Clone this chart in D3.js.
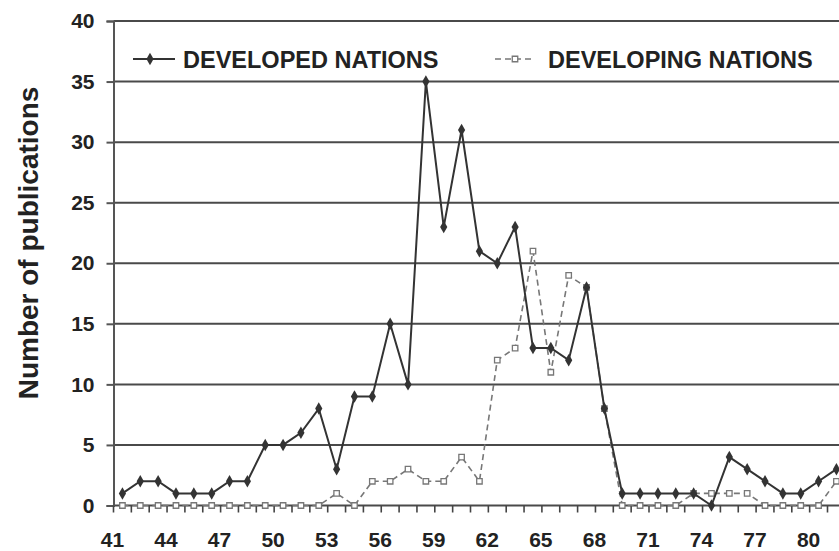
<!DOCTYPE html>
<html>
<head>
<meta charset="utf-8">
<script src="https://cdn.jsdelivr.net/npm/d3@7/dist/d3.min.js"></script>
<style>
  html, body { margin: 0; padding: 0; background: #fff; }
  svg { display: block; }
  text { font-family: "Liberation Sans", Arial, sans-serif; font-weight: bold; fill: #222; }
</style>
</head>
<body>
<svg id="chart" width="839" height="551"></svg>
<script>
// Publication years (19xx)
const years = [41, 42, 43, 44, 45, 46, 47, 48, 49, 50,
               51, 52, 53, 54, 55, 56, 57, 58, 59, 60,
               61, 62, 63, 64, 65, 66, 67, 68, 69, 70,
               71, 72, 73, 74, 75, 76, 77, 78, 79, 80, 81];

// Number of publications per year
const developed = [1, 2, 2, 1, 1, 1, 2, 2, 5, 5,
                   6, 8, 3, 9, 9, 15, 10, 35, 23, 31,
                   21, 20, 23, 13, 13, 12, 18, 8, 1, 1,
                   1, 1, 1, 0, 4, 3, 2, 1, 1, 2, 3];
const developing = [0, 0, 0, 0, 0, 0, 0, 0, 0, 0,
                    0, 0, 1, 0, 2, 2, 3, 2, 2, 4,
                    2, 12, 13, 21, 11, 19, 18, 8, 0, 0,
                    0, 0, 1, 1, 1, 1, 0, 0, 0, 0, 2];

const labelYears = [41, 44, 47, 50, 53, 56, 59, 62, 65, 68, 71, 74, 77, 80];
const yTicks = [0, 5, 10, 15, 20, 25, 30, 35, 40];
const seriesNames = ["DEVELOPED NATIONS", "DEVELOPING NATIONS"];

const svg = d3.select("#chart");
const plotLeft = 113.5, step = 17.85;
const plotTop = 21, plotBottom = 505.5;
const plotRight = plotLeft + step * years.length;

const x = d3.scaleBand().domain(years).range([plotLeft, plotRight]).padding(0);
const y = d3.scaleLinear().domain([0, 40]).range([plotBottom, plotTop]);
const cx = d => x(d) + x.bandwidth() / 2;

// Horizontal gridlines
svg.append("g").selectAll("line").data(yTicks).join("line")
  .attr("x1", plotLeft).attr("x2", plotRight)
  .attr("y1", d => y(d)).attr("y2", d => y(d))
  .attr("stroke", "#4a4a4a").attr("stroke-width", 2);

// Y axis
const yAxis = svg.append("g").attr("transform", `translate(${plotLeft},0)`)
  .call(d3.axisLeft(y).tickValues(yTicks).tickSize(7).tickPadding(12));
yAxis.select(".domain").attr("stroke", "#555").attr("stroke-width", 2);
yAxis.selectAll(".tick line").attr("stroke", "#555").attr("stroke-width", 2);
yAxis.selectAll(".tick text").style("font-size", "21px").attr("fill", "#222");

// X axis: a tick at every category boundary, a label on every third year
const boundaries = years.map(d => x(d)).concat([plotRight]);
svg.append("g").selectAll("line").data(boundaries).join("line")
  .attr("x1", d => d).attr("x2", d => d)
  .attr("y1", plotBottom).attr("y2", plotBottom + 7)
  .attr("stroke", "#444").attr("stroke-width", 1.6);

const xAxis = svg.append("g").attr("transform", `translate(0,${plotBottom})`)
  .call(d3.axisBottom(x).tickValues(labelYears).tickSize(0).tickPadding(27));
xAxis.select(".domain").remove();
xAxis.selectAll(".tick text").style("font-size", "21px").attr("dx", -10).attr("fill", "#222");

// Y axis title
svg.append("text")
  .attr("transform", "translate(38,243) rotate(-90)")
  .attr("text-anchor", "middle")
  .style("font-size", "28px")
  .text("Number of publications");

// Developing nations: dashed grey line with open square markers
const lineGen = vals => d3.line().x((d, i) => cx(years[i])).y(d => y(d))(vals);
svg.append("path").attr("d", lineGen(developing))
  .attr("fill", "none").attr("stroke", "#777").attr("stroke-width", 1.6)
  .attr("stroke-dasharray", "6,4");
svg.append("g").selectAll("path").data(developing).join("path")
  .attr("transform", (d, i) => `translate(${cx(years[i])},${y(d)})`)
  .attr("d", d3.symbol(d3.symbolSquare, 30))
  .attr("fill", "#fff").attr("stroke", "#777").attr("stroke-width", 1.3);

// Developed nations: solid dark line with filled diamonds
svg.append("path").attr("d", lineGen(developed))
  .attr("fill", "none").attr("stroke", "#333").attr("stroke-width", 2);
svg.append("g").selectAll("path").data(developed).join("path")
  .attr("transform", (d, i) => `translate(${cx(years[i])},${y(d)})`)
  .attr("d", d3.symbol(d3.symbolDiamond, 45))
  .attr("fill", "#333");

// Legend
const legY = 59;
const leg1 = svg.append("g");
leg1.append("line").attr("x1", 133).attr("x2", 175).attr("y1", legY).attr("y2", legY)
  .attr("stroke", "#333").attr("stroke-width", 2);
leg1.append("path").attr("transform", `translate(150,${legY})`)
  .attr("d", d3.symbol(d3.symbolDiamond, 45)).attr("fill", "#333");
leg1.append("text").attr("x", 183).attr("y", legY + 8.5).style("font-size", "23.5px").text(seriesNames[0]);

const leg2 = svg.append("g");
leg2.append("line").attr("x1", 495).attr("x2", 532).attr("y1", legY).attr("y2", legY)
  .attr("stroke", "#777").attr("stroke-width", 1.6).attr("stroke-dasharray", "6,4");
leg2.append("path").attr("transform", `translate(515,${legY})`)
  .attr("d", d3.symbol(d3.symbolSquare, 30)).attr("fill", "#fff").attr("stroke", "#777").attr("stroke-width", 1.3);
leg2.append("text").attr("x", 548).attr("y", legY + 8.5).style("font-size", "23.5px").text(seriesNames[1]);
</script>
</body>
</html>
